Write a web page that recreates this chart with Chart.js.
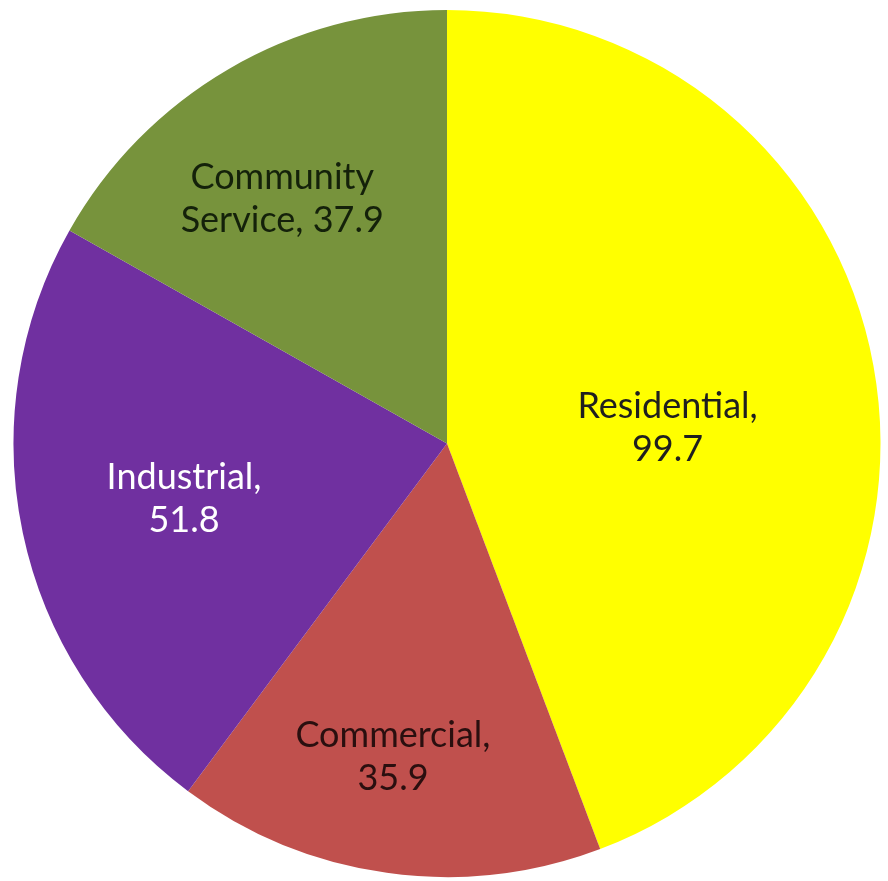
<!DOCTYPE html>
<html>
<head>
<meta charset="utf-8">
<script src="https://cdn.jsdelivr.net/npm/chart.js@4/dist/chart.umd.min.js"></script>
<style>
  html, body { margin: 0; padding: 0; background: #ffffff; }
  #wrap { width: 888px; height: 881px; }
</style>
</head>
<body>
<div id="wrap"><canvas id="pie-chart"></canvas></div>
<script>
// Energy use by sector
const sectors = ['Residential', 'Commercial', 'Industrial', 'Community Service'];
const usage = [99.7, 35.9, 51.8, 37.9];

const sliceColors = ['#ffff00', '#c0504d', '#7030a0', '#77933c'];
const labelColors = ['#1f1f1f', '#2a0f0f', '#ffffff', '#14210a'];

// where each label sits inside its slice: fraction of radius, angle nudge (deg)
const labelPlacement = [
    { r: 0.51, da: 6.4 },
    { r: 0.733, da: 1.8 },
    { r: 0.62, da: 0 },
    { r: 0.68, da: -3.7 },
];

// label text lines, wrapped like the office-style data labels
const labelLines = [
    ['Residential,', '99.7'],
    ['Commercial,', '35.9'],
    ['Industrial,', '51.8'],
    ['Community', 'Service, 37.9'],
];

// Draw "Category, value" labels on each slice
const sliceLabels = {
    id: 'sliceLabels',
    afterDatasetsDraw(chart) {
        const ctx = chart.ctx;
        const meta = chart.getDatasetMeta(0);
        ctx.save();
        ctx.font = '36px Lato';
        ctx.textAlign = 'center';
        ctx.textBaseline = 'middle';
        meta.data.forEach((arc, i) => {
            const p = arc.getProps(['x', 'y', 'startAngle', 'endAngle', 'outerRadius']);
            const mid = (p.startAngle + p.endAngle) / 2 + labelPlacement[i].da * Math.PI / 180;
            const r = p.outerRadius * labelPlacement[i].r;
            const cx = p.x + Math.cos(mid) * r;
            const cy = p.y + Math.sin(mid) * r;
            const lines = labelLines[i];
            const lh = 43;
            ctx.fillStyle = labelColors[i];
            lines.forEach((t, k) => {
                ctx.fillText(t, cx, cy + (k - (lines.length - 1) / 2) * lh);
            });
        });
        ctx.restore();
    }
};

const ctx = document.getElementById('pie-chart').getContext('2d');

const pieChart = new Chart(ctx, {
    type: 'pie',
    data: {
        labels: sectors,
        datasets: [{
            data: usage,
            backgroundColor: sliceColors,
            borderWidth: 0,
        }]
    },
    options: {
        responsive: true,
        maintainAspectRatio: false,
        animation: false,
        layout: {
            padding: { top: 10, bottom: 4, left: 13, right: 7 },
        },
        plugins: {
            legend: { display: false },
            tooltip: { enabled: false },
        },
    },
    plugins: [sliceLabels],
});
</script>
</body>
</html>
